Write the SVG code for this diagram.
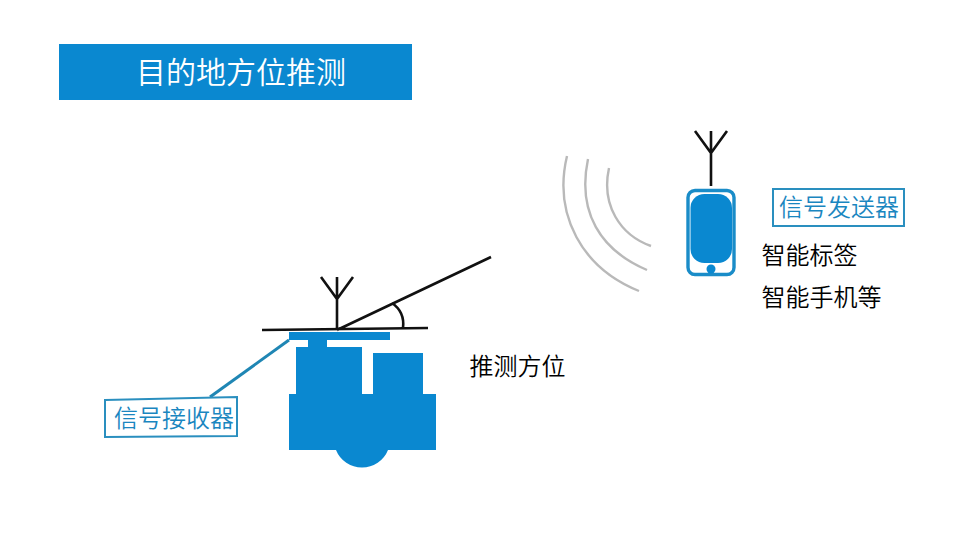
<svg xmlns="http://www.w3.org/2000/svg" width="960" height="540" viewBox="0 0 960 540">
<style>
text{font-family:"Noto Sans CJK SC","Noto Sans CJK JP",sans-serif;font-size:24px;font-weight:350;fill:#000}
.blue{fill:#0a88d0}
.k{fill:none;stroke:#111;stroke-width:2.6}
.wave{fill:none;stroke:#b9b9b9;stroke-width:2.4}
.tag{fill:#fff;stroke:#2a8fbf;stroke-width:2}
.tagt{fill:#1a86c0}
</style>
<rect width="960" height="540" fill="#fff"/>
<g id="title"><rect class="blue" x="59" y="44" width="353" height="56"/><text x="241" y="83" text-anchor="middle" style="font-size:30px;fill:#fff">目的地方位推测</text></g>
<g id="connectors">
<path d="M289 340L210 397" fill="none" stroke="#1f86b4" stroke-width="3"/>
</g>
<g id="receiver">
<path class="blue" d="M289 332H390V340H327V347H362V394H373V353H423V394H436V450H388A28 28 0 0 1 336 450H289V394H296V347H308V340H289Z"/>
<path class="k" d="M262 330L428 328M337 277V330M321 277L337 299L353 277M337 330L491 257M392 303Q405 312 403 328"/>
</g>
<g id="receiver-label"><polygon class="tag" points="105,400 237,397 237,436 105,437"/><text class="tagt" x="114" y="427">信号接收器</text></g>
<g id="waves">
<path class="wave" d="M567 156C553 215 582 268 639 291M588 159C577 212 600 250 647 270M609 168C601 205 620 235 651 246"/>
</g>
<g id="transmitter">
<path class="k" d="M711 131V186M695 131L711 153L727 131"/>
<rect x="688" y="190.500" width="46" height="84" rx="7" fill="#fff" stroke="#1a8cc8" stroke-width="3.400"/>
<rect class="blue" x="690.500" y="194" width="41.500" height="69" rx="14"/>
<circle class="blue" cx="711" cy="269" r="4.500"/>
</g>
<g id="transmitter-label"><rect class="tag" x="773" y="189" width="131" height="37"/><text class="tagt" x="779" y="216">信号发送器</text></g>
<text x="761.500" y="264">智能标签</text>
<text x="761.500" y="306">智能手机等</text>
<text x="469.500" y="375">推测方位</text>
</svg>
